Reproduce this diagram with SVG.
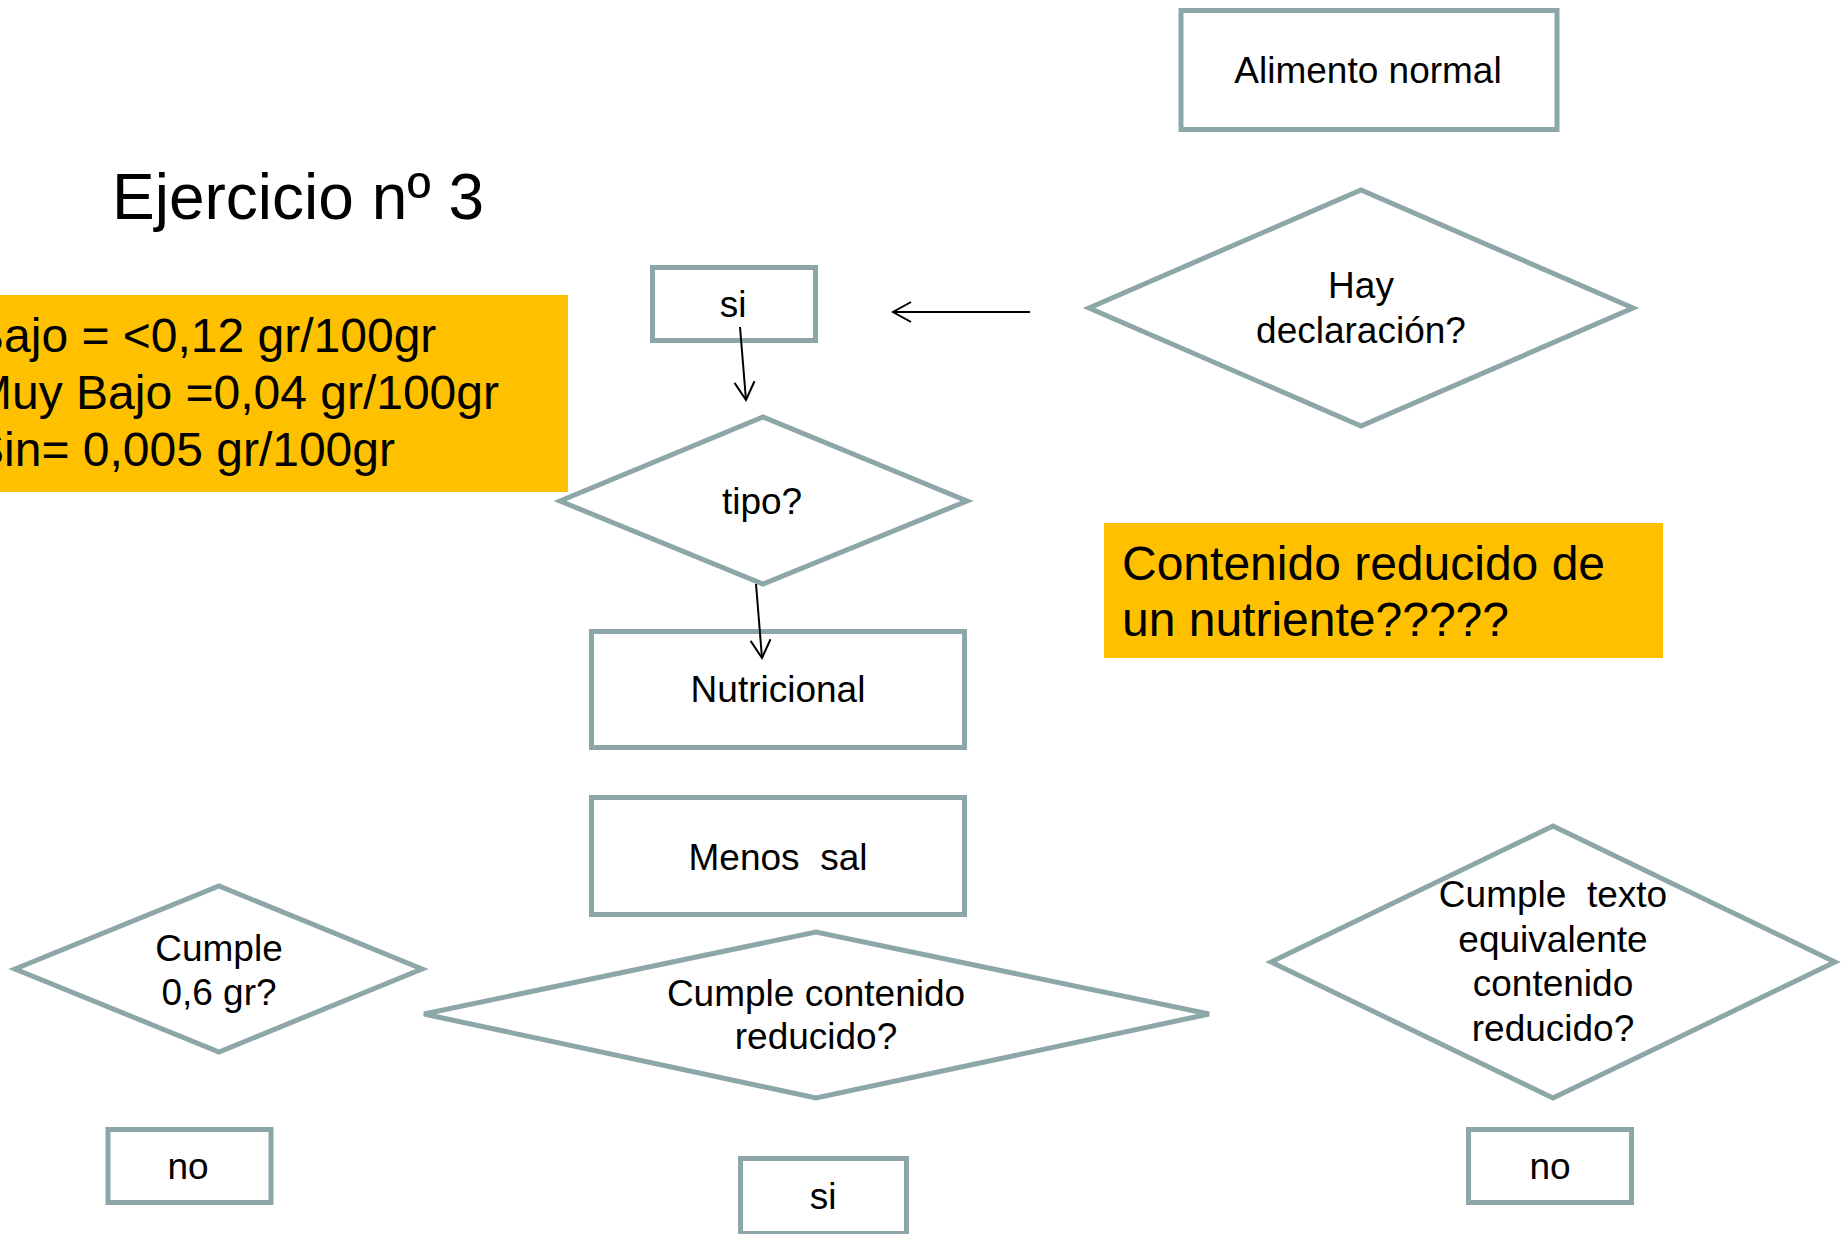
<svg xmlns="http://www.w3.org/2000/svg" width="1843" height="1234" viewBox="0 0 1843 1234">
<style>
.box{fill:#fff;stroke:#8DA7A9;stroke-width:5;stroke-linejoin:miter}
.note{fill:#FFC000;stroke:none}
.t{font-family:"Liberation Sans",Arial,sans-serif;font-size:37px;fill:#000;text-anchor:middle;white-space:pre}
.big{font-family:"Liberation Sans",Arial,sans-serif;font-size:48px;fill:#000}
.title{font-family:"Liberation Sans",Arial,sans-serif;font-size:64px;fill:#000}
.conn{stroke:#000;stroke-width:2;fill:none}
</style>
<defs>
<marker id="arr" viewBox="-22 -12 24 24" refX="0" refY="0" markerWidth="24" markerHeight="24" markerUnits="userSpaceOnUse" orient="auto">
<path d="M-18,-10 L0,0 L-18,10" fill="none" stroke="#000" stroke-width="2"/>
</marker>
</defs>
<rect width="1843" height="1234" fill="#fff"/>
<text class="title" x="112" y="219">Ejercicio nº 3</text>
<g id="note-left">
<rect class="note" x="0" y="295" width="568" height="197"/>
<text class="big" x="-28" y="352">Bajo = &lt;0,12 gr/100gr</text>
<text class="big" x="-28" y="409">Muy Bajo =0,04 gr/100gr</text>
<text class="big" x="-28" y="466">Sin= 0,005 gr/100gr</text>
</g>
<g id="note-right">
<rect class="note" x="1104" y="523" width="559" height="135"/>
<text class="big" x="1122" y="580">Contenido reducido de</text>
<text class="big" x="1122" y="636">un nutriente?????</text>
</g>
<g id="alimento">
<rect class="box" x="1181" y="10.5" width="376" height="119"/>
<text class="t" x="1368" y="83">Alimento normal</text>
</g>
<g id="hay">
<polygon class="box" points="1089,308 1361,190 1633,308 1361,426"/>
<text class="t" x="1361" y="298">Hay</text>
<text class="t" x="1361" y="343">declaración?</text>
</g>
<g id="si-top">
<rect class="box" x="652.5" y="267.5" width="163" height="73"/>
<text class="t" x="733" y="317">si</text>
</g>
<g id="tipo">
<polygon class="box" points="560,501 763,417 967,501 763,584"/>
<text class="t" x="762" y="514">tipo?</text>
</g>
<g id="nutricional">
<rect class="box" x="591.5" y="631.5" width="373" height="116"/>
<text class="t" x="778" y="702">Nutricional</text>
</g>
<g id="menos-sal">
<rect class="box" x="591.5" y="797.5" width="373" height="117"/>
<text class="t" x="778" y="870">Menos  sal</text>
</g>
<g id="cumple-06">
<polygon class="box" points="15,969 219,886 422,969 219,1052"/>
<text class="t" x="219" y="961">Cumple</text>
<text class="t" x="219" y="1005">0,6 gr?</text>
</g>
<g id="cumple-contenido">
<polygon class="box" points="424,1014 816,932 1209,1014 816,1098"/>
<text class="t" x="816" y="1006">Cumple contenido</text>
<text class="t" x="816" y="1049">reducido?</text>
</g>
<g id="cumple-texto">
<polygon class="box" points="1271,962 1553,826 1835,962 1553,1098"/>
<text class="t" x="1553" y="907">Cumple  texto</text>
<text class="t" x="1553" y="952">equivalente</text>
<text class="t" x="1553" y="996">contenido</text>
<text class="t" x="1553" y="1041">reducido?</text>
</g>
<g id="no-left">
<rect class="box" x="108" y="1129.5" width="163" height="73"/>
<text class="t" x="188" y="1179">no</text>
</g>
<g id="si-bottom">
<rect class="box" x="740.5" y="1158.5" width="166" height="75"/>
<text class="t" x="823" y="1209">si</text>
</g>
<g id="no-right">
<rect class="box" x="1468.5" y="1129.5" width="163" height="73"/>
<text class="t" x="1550" y="1179">no</text>
</g>
<g id="connectors">
<line class="conn" x1="1030" y1="312" x2="893" y2="312" marker-end="url(#arr)"/>
<line class="conn" x1="740" y1="327" x2="746" y2="400" marker-end="url(#arr)"/>
<line class="conn" x1="756" y1="584" x2="762" y2="658" marker-end="url(#arr)"/>
</g>
</svg>
